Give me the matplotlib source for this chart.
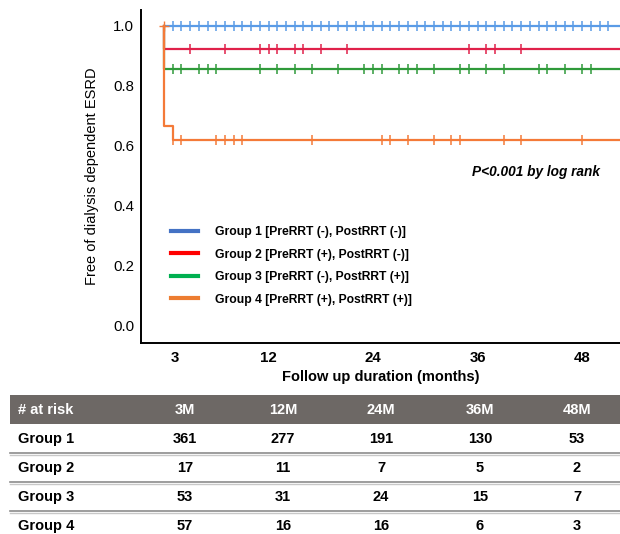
import matplotlib.pyplot as plt
from matplotlib.patches import Rectangle

plt.rcParams["font.family"] = ["Liberation Sans", "DejaVu Sans"]

# Survival curves (months after the 3-month landmark)
groups = ["Group 1 [PreRRT (-), PostRRT (-)]",
          "Group 2 [PreRRT (+), PostRRT (-)]",
          "Group 3 [PreRRT (-), PostRRT (+)]",
          "Group 4 [PreRRT (+), PostRRT (+)]"]
curve_colors = ["#5a9be6", "#e0214a", "#2f9a3a", "#f47a38"]
legend_colors = ["#4472c4", "#ff0000", "#00b050", "#ed7d31"]

g1_t = [0, 53]
g1_s = [1.0, 1.0]
g2_t = [0, 0, 53]
g2_s = [1.0, 0.923, 0.923]
g3_t = [0, 0, 53]
g3_s = [1.0, 0.857, 0.857]
g4_t = [0, 0, 1.0, 53]
g4_s = [1.0, 0.667, 0.62, 0.62]

g1_cens = list(range(1, 52))
g2_cens = [3, 7, 11, 12, 13, 15, 16, 18, 21, 35, 37, 38, 41]
g3_cens = [1, 2, 4, 5, 6, 11, 13, 15, 17, 20, 23, 24, 25, 27, 28, 29, 31,
           34, 35, 37, 39, 43, 44, 46, 48, 49]
g4_cens = [1, 2, 6, 7, 8, 9, 17, 25, 26, 28, 31, 33, 34, 39, 41, 48]

xtick_pos = [1.3, 12, 24, 36, 48]
xtick_labels = ["3", "12", "24", "36", "48"]

# Number at risk table
risk_cols = ["3M", "12M", "24M", "36M", "48M"]
risk_rows = ["Group 1", "Group 2", "Group 3", "Group 4"]
risk_vals = [[361, 277, 191, 130, 53],
             [17, 11, 7, 5, 2],
             [53, 31, 24, 15, 7],
             [57, 16, 16, 6, 3]]

W, H = 620, 534
fig = plt.figure(figsize=(W / 100, H / 100), dpi=100)
ax = fig.add_axes([141 / W, 1 - 343 / H, 1 - 141 / W, (343 - 10) / H])

curves = [(g1_t, g1_s, g1_cens), (g2_t, g2_s, g2_cens),
          (g3_t, g3_s, g3_cens), (g4_t, g4_s, g4_cens)]
for (t, s, cens), col in zip(curves, curve_colors):
    ax.step(t, s, where="post", color=col, lw=1.6)
    level = s[-1]
    ax.plot(cens, [level] * len(cens), ls="none", marker="|", ms=6.5,
            mew=1.1, color=col)
ax.plot([0], [1.0], ls="none", marker="+", ms=7, mew=1.0, color=curve_colors[3])

# legend drawn with office colours
handles = [plt.Line2D([], [], color=c, lw=3) for c in legend_colors]
ax.legend(handles, groups, loc="upper left", bbox_to_anchor=(0.04, 0.383),
          frameon=False, handlelength=2.2, handletextpad=1.4, labelspacing=0.86,
          prop={"weight": "bold", "size": 8.7})

ax.text(0.993, (0.513 + 0.0567) / 1.11, "P<0.001 by log rank",
        transform=ax.transAxes, ha="right", va="center", fontsize=9.8,
        fontweight="bold", style="italic")
ax.texts[-1].set_position(((600 - 141) / (620 - 141), (0.513 + 0.0567) / 1.11))

ax.set_xlim(-2.64, 52.35)
ax.set_ylim(-0.0567, 1.0533)
ax.set_yticks([0.0, 0.2, 0.4, 0.6, 0.8, 1.0])
ax.set_yticklabels(["0.0", "0.2", "0.4", "0.6", "0.8", "1.0"])
ax.set_xticks(xtick_pos)
ax.set_xticklabels(xtick_labels, fontweight="bold")
ax.tick_params(length=0, labelsize=10.8)
ax.tick_params(axis="y", pad=5)
ax.tick_params(axis="x", pad=6)
for side in ["top", "right"]:
    ax.spines[side].set_visible(False)
for side in ["left", "bottom"]:
    ax.spines[side].set_linewidth(1.4)
ax.set_xlabel("Follow up duration (months)", fontsize=10.5, fontweight="bold", labelpad=3)
ax.set_ylabel("Free of dialysis dependent ESRD", fontsize=10.5, labelpad=10)

# table in pixel coordinates
tab = fig.add_axes([0, 0, 1, (H - 385) / H])
tab.set_xlim(0, W)
tab.set_ylim(H, 385)
tab.axis("off")
tab.add_patch(Rectangle((10, 395), W - 10, 29, color="#6d6865", lw=0))
col_x = [185, 283, 381, 480, 577]
tab.text(18, 410, "# at risk", color="white", fontsize=10.5, fontweight="bold",
         ha="left", va="center")
for x, c in zip(col_x, risk_cols):
    tab.text(x, 410, c, color="white", fontsize=10.5, fontweight="bold",
             ha="center", va="center")
row_y = [439, 468, 497, 526]
for i, (y, name) in enumerate(zip(row_y, risk_rows)):
    tab.text(18, y, name, fontsize=10.5, fontweight="bold", ha="left", va="center")
    for x, v in zip(col_x, risk_vals[i]):
        tab.text(x, y, str(v), fontsize=10.5, fontweight="bold", ha="center", va="center")
for y in [453, 482, 511]:
    tab.plot([10, W], [y, y], color="#8c8c8c", lw=1.2)
    tab.plot([10, W], [y + 1.5, y + 1.5], color="#c8c8c8", lw=1.0)

fig.savefig("out.png", dpi=100)
